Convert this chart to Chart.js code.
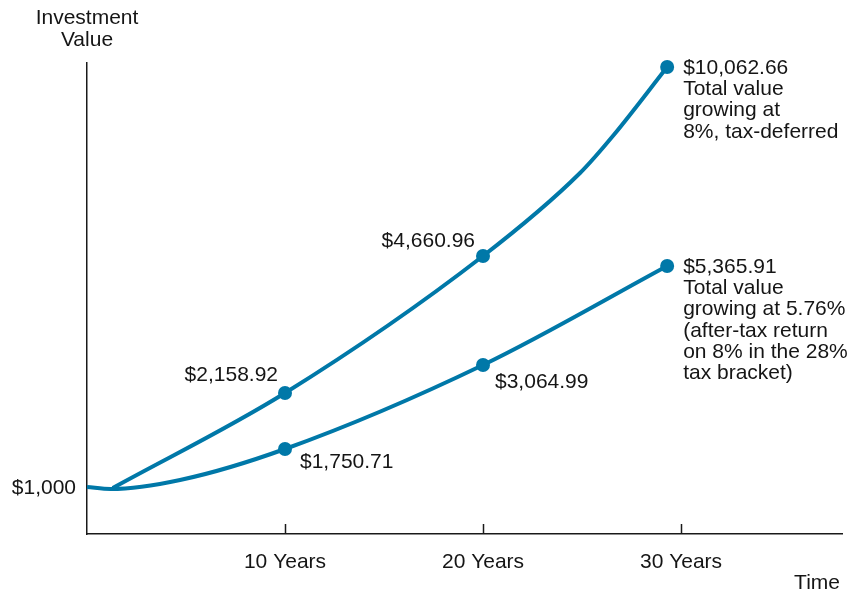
<!DOCTYPE html>
<html>
<head>
<meta charset="utf-8">
<script src="https://cdn.jsdelivr.net/npm/chart.js@4.4.1/dist/chart.umd.min.js"></script>
<style>
  html, body { margin: 0; padding: 0; background: #fff; }
  #wrap { width: 854px; height: 592px; }
</style>
</head>
<body>
<div id="wrap"><canvas id="growthChart"></canvas></div>
<script>
// ==== Data ====
// x = years, y = drawn height above the time axis (the sketch is not to scale,
// so the dollar amounts are only labels)
const upperYears   = [1.3, 10, 20, 24.9, 26.6, 29.3];
const upperHeights = [46, 141, 278, 361, 399, 467];
const upperLabels  = [null, ['$2,158.92'], ['$4,660.96'], null, null,
  ['$10,062.66', 'Total value', 'growing at', '8%, tax-deferred']];

const lowerYears   = [0, 1.2, 4.7, 10, 20, 29.3];
const lowerHeights = [47, 45, 54, 85, 169, 268];
const lowerLabels  = [null, null, null, ['$1,750.71'], ['$3,064.99'],
  ['$5,365.91', 'Total value', 'growing at 5.76%', '(after-tax return', 'on 8% in the 28%', 'tax bracket)']];

const yearTicks = [10, 20, 30];
const startValueLabel = '$1,000';
const startHeight = 47;

// ==== Style ====
const LINE_COLOR = 'rgb(0,120,168)';
const INK = '#151515';
const AXIS = '#1a1a1a';
const FONT = "'Liberation Sans', Arial, Helvetica, sans-serif";
const FONT_SIZE = 21;
const LINE_H = 21.3;

// label placement relative to its point (px)
const labelPlacement = [
  { 1: { dx: -7, dy: -18, align: 'right' }, 2: { dx: -8, dy: -15, align: 'right' }, 5: { dx: 16, dy: 1, align: 'left' } },
  { 3: { dx: 15, dy: 13, align: 'left' }, 4: { dx: 12, dy: 17, align: 'left' }, 5: { dx: 16, dy: 1, align: 'left' } }
];
const allLabels = [upperLabels, lowerLabels];

const toPoints = (xs, ys) => xs.map((x, i) => ({ x, y: ys[i] }));

// ---- Text + inward tick marks ----
const annotate = {
  id: 'annotate',
  afterDraw(chart) {
    const { ctx, scales: { x, y }, chartArea } = chart;
    ctx.save();

    // ticks pointing up into the plot
    ctx.strokeStyle = AXIS;
    ctx.lineWidth = 1.5;
    yearTicks.forEach(t => {
      const px = Math.round(x.getPixelForValue(t)) + 0.5;
      ctx.beginPath();
      ctx.moveTo(px, chartArea.bottom);
      ctx.lineTo(px, chartArea.bottom - 10);
      ctx.stroke();
    });

    ctx.fillStyle = INK;
    ctx.font = `${FONT_SIZE}px ${FONT}`;
    ctx.textBaseline = 'middle';

    // axis titles
    ctx.textAlign = 'center';
    ctx.fillText('Investment', 87, 18);
    ctx.fillText('Value', 87, 40);
    ctx.textAlign = 'right';
    ctx.fillText('Time', 840, 583);
    ctx.fillText(startValueLabel, chartArea.left - 11, y.getPixelForValue(startHeight) + 1);

    // point labels
    chart.data.datasets.forEach((ds, di) => {
      const meta = chart.getDatasetMeta(di);
      allLabels[di].forEach((lines, i) => {
        if (!lines) return;
        const p = meta.data[i];
        const pl = labelPlacement[di][i];
        ctx.textAlign = pl.align;
        lines.forEach((ln, k) => ctx.fillText(ln, p.x + pl.dx, p.y + pl.dy + k * LINE_H));
      });
    });
    ctx.restore();
  }
};

const lineStyle = (labels) => ({
  borderColor: LINE_COLOR,
  backgroundColor: LINE_COLOR,
  borderWidth: 4,
  fill: false,
  clip: false,
  cubicInterpolationMode: 'monotone',
  pointRadius: (c) => labels[c.dataIndex] ? 7 : 0,
  pointHoverRadius: 0,
  pointBorderWidth: 0
});

new Chart(document.getElementById('growthChart'), {
  type: 'line',
  data: {
    datasets: [
      { label: 'Tax-deferred at 8%', data: toPoints(upperYears, upperHeights), ...lineStyle(upperLabels) },
      { label: 'After-tax at 5.76%', data: toPoints(lowerYears, lowerHeights), ...lineStyle(lowerLabels) }
    ]
  },
  options: {
    responsive: true,
    maintainAspectRatio: false,
    animation: false,
    events: [],
    layout: { padding: { top: 63, right: 12, left: 0, bottom: 0 } },
    plugins: { legend: { display: false }, tooltip: { enabled: false } },
    scales: {
      x: {
        type: 'linear',
        min: 0,
        max: 38.13,
        afterFit: (s) => { s.height = 58; },
        border: { display: true, color: AXIS, width: 1.5 },
        grid: { display: false, drawTicks: false },
        ticks: {
          stepSize: 10,
          includeBounds: false,
          autoSkip: false,
          maxRotation: 0,
          padding: 16,
          color: INK,
          font: { family: FONT, size: FONT_SIZE },
          callback: (v) => yearTicks.includes(v) ? v + ' Years' : ''
        }
      },
      y: {
        min: 0,
        max: 471,
        afterFit: (s) => { s.width = 87; },
        border: { display: true, color: AXIS, width: 1.5 },
        grid: { display: false, drawTicks: false },
        ticks: { display: false }
      }
    }
  },
  plugins: [annotate]
});
</script>
</body>
</html>
